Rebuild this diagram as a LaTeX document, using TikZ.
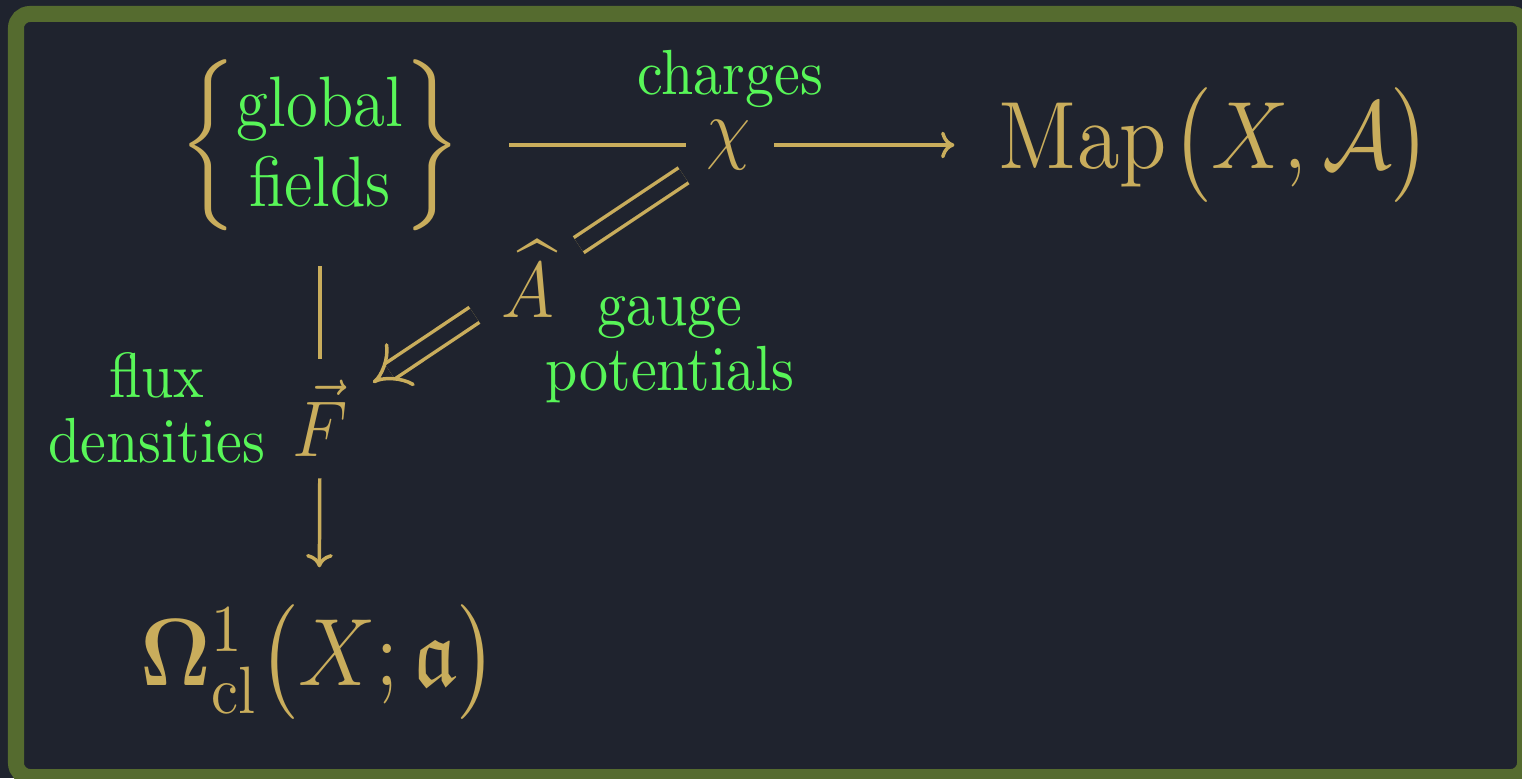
\RequirePackage{fix-cm}
\documentclass[tikz,border=0pt]{standalone}
\usepackage{amsmath,amssymb}
\usepackage{tikz}
\usetikzlibrary{arrows.meta}
\definecolor{bgdark}{RGB}{31,35,46}
\definecolor{frameolive}{RGB}{85,107,47}
\definecolor{symgold}{RGB}{201,173,92}
\definecolor{lblgreen}{RGB}{88,246,88}
\tikzset{
  obj/.style={text=symgold, inner sep=0pt, yscale=1.1, font=\fontsize{12.4}{14.9}\selectfont},
  bigobj/.style={obj, font=\fontsize{15}{18}\selectfont},
  lbl/.style={text=lblgreen, inner sep=0pt, yscale=1.1, align=center,
              font=\fontsize{10}{10.2}\selectfont},
  plainln/.style={symgold, line width=0.6pt},
  toarr/.style={plainln, -{Computer Modern Rightarrow[length=2.3pt, width=4.6pt]}},
  dblln/.style={symgold, line width=0.6pt, double=bgdark, double distance=2.5pt},
  dblarr/.style={dblln, -{Implies}},
}

\begin{document}
\begin{tikzpicture}[x=0.1724pt, y=-0.1724pt]
  \useasboundingbox (0,0) rectangle (1522,778);
%---------------- slide background ----------------
  \fill[bgdark] (0,0) rectangle (1522,778);
  \draw[frameolive, line width=2.76pt, rounded corners=2.4pt] (16,14) rectangle (1525,777);
%---------------- objects ----------------
  \node[obj, font=\fontsize{14.9}{17.5}\selectfont] (fields) at (320,145)
       {$\Bigl\{\text{\fontsize{11.2}{12.5}\selectfont\color{lblgreen}%
         \begin{tabular}{@{}c@{}}global\\ fields\end{tabular}}\Bigr\}$};
  \node[obj] (chi) at (729,145) {$\chi$};
  \node[bigobj] (map) at (1215,145) {$\mathrm{Map}\mskip1mu\bigl(X,\mathcal{A}\bigr)$};
  \node[obj] (ahat) at (528,279) {$\widehat{A}$};
  \node[obj] (flux) at (320,418) {$\vec{F}$};
  \node[bigobj] (omega) at (319,662) {$\mathbf{\Omega}^1_{\mathrm{cl}}\bigl(X;\mathfrak{a}\bigr)$};
%---------------- labels ----------------
  \node[lbl] (charges) at (730,79) {charges};
  \node[lbl] (gauge) at (670,350) {gauge\\potentials};
  \node[lbl] (fluxlbl) at (157,408) {flux\\densities};
%---------------- maps ----------------
  \draw[plainln, shorten <=8.2pt, shorten >=3.4pt] (fields) -- (chi);
  \draw[toarr, shorten <=3.8pt, shorten >=7.4pt] (chi) -- (map);
  \draw[dblln, shorten <=4.6pt, shorten >=4.8pt] (chi) -- (ahat);
  \draw[dblarr, shorten <=5.4pt, shorten >=5pt] (ahat) -- (flux);
  \draw[plainln, shorten <=5.9pt, shorten >=3.4pt] (fields) -- (flux);
  \draw[toarr, shorten <=3.6pt, shorten >=6.2pt] (flux) -- (omega);
\end{tikzpicture}
\end{document}
